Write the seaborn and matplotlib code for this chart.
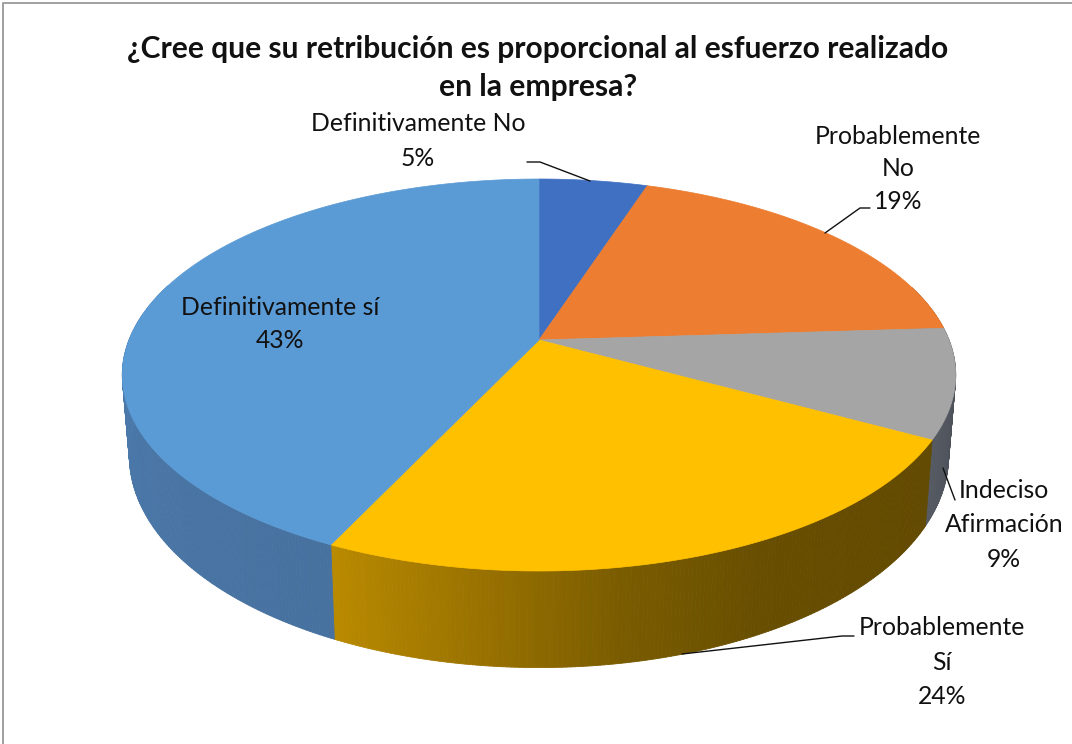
import numpy as np
import matplotlib
matplotlib.use("Agg")
import matplotlib.pyplot as plt
from matplotlib.collections import PolyCollection
import seaborn as sns

# Survey answers, clockwise from twelve o'clock
categories = ["Definitivamente No", "Probablemente\nNo", "Indeciso\nAfirmación",
              "Probablemente\nSí", "Definitivamente sí"]
percentages = [5, 19, 9, 24, 43]

top_colors = ["#4070C2", "#ED7D31", "#A5A5A5", "#FFC000", "#5B9BD5"]
wall_stops = [
    ["#2F5597", "#2F5597"],
    ["#A0561F", "#A0561F"],
    ["#4A4E56", "#4C5058", "#565A62"],
    ["#624A00", "#644B00", "#684E00", "#7A5C00", "#9B7300", "#B98A00"],
    ["#47719F", "#4A78A9", "#4F80B4", "#5488BE"],
]

sns.set_theme(style="white")
plt.rcParams["font.family"] = ["Lato", "DejaVu Sans"]

# Tilted-disc projection: unit circle to canvas pixels
CX, PERSPECTIVE = 539.0, 0.1786


def rim(angle_deg, y0, ax_x, ax_y):
    t = np.radians(angle_deg)
    ux, uy = np.sin(t), np.cos(t)
    w = 1 + PERSPECTIVE * uy
    return CX + ax_x * ux / w, y0 - ax_y * uy / w


def top_rim(a):
    return rim(a, 340.0, 410.0, 189.75)


def bottom_rim(a):
    return rim(a, 418.0, 403.0, 205.0)


fig = plt.figure(figsize=(10.72, 7.44), dpi=100, facecolor="white")
ax = fig.add_axes([0, 0, 1, 1])
ax.set_xlim(0, 1072)
ax.set_ylim(744, 0)
ax.axis("off")

# Only the top and left chart border stay in view
ax.plot([2.5, 2.5, 1072], [744, 2.5, 2.5], color="#A0A0A0", lw=1.4, zorder=1)

edges = np.concatenate([[0], np.cumsum(percentages)]) * 3.6

# Side wall, one thin shaded strip per step of angle
for start, stop, stops in zip(edges[:-1], edges[1:], wall_stops):
    angles = np.arange(start, stop + 0.5, 0.5)
    angles[-1] = stop
    shades = sns.blend_palette(stops, n_colors=len(angles) - 1)
    quads, fills = [], []
    for a0, a1, shade in zip(angles[:-1], angles[1:], shades):
        if np.cos(np.radians(a0)) > 0.3:
            continue
        x0, y0 = top_rim(a0)
        x1, y1 = top_rim(a1)
        x2, y2 = bottom_rim(a1)
        x3, y3 = bottom_rim(a0)
        quads.append([(x0, y0), (x1, y1), (x2, y2), (x3, y3)])
        fills.append(shade)
    if quads:
        ax.add_collection(PolyCollection(quads, facecolors=fills, edgecolors=fills,
                                         linewidths=0.6, zorder=2))

# Top face of every slice
for start, stop, color in zip(edges[:-1], edges[1:], top_colors):
    angles = np.linspace(start, stop, 200)
    xs, ys = top_rim(angles)
    ax.fill(np.r_[CX, xs], np.r_[340.0, ys], facecolor=color, edgecolor=color,
            lw=0.5, zorder=3)

# Labels with their percentages
label_xy = [(418, 141), (898, 169), (1004, 525), (942, 662), (280, 324)]
label_spacing = [1.6, 1.48, 1.58, 1.6, 1.55]
for name, pct, (lx, ly), gap in zip(categories, percentages, label_xy, label_spacing):
    ax.text(lx, ly, f"{name}\n{pct}%", ha="center", va="center", fontsize=17.8,
            color="#111111", linespacing=gap, zorder=5)

# Leader lines
leaders = [
    ([527, 540, 590], [162, 162, 181]),
    ([870, 860, 825], [208, 208, 233]),
    ([955, 943], [500, 468]),
    ([854, 842, 682], [636, 636, 654]),
]
for xs, ys in leaders:
    ax.plot(xs, ys, color="#111111", lw=1.0, zorder=4)

ax.text(538, 68, "¿Cree que su retribución es proporcional al esfuerzo realizado\nen la empresa?",
        ha="center", va="center", fontsize=21.6, fontweight="bold", color="#111111",
        linespacing=1.43, zorder=5)

fig.savefig("out.png", dpi=100, facecolor="white")
